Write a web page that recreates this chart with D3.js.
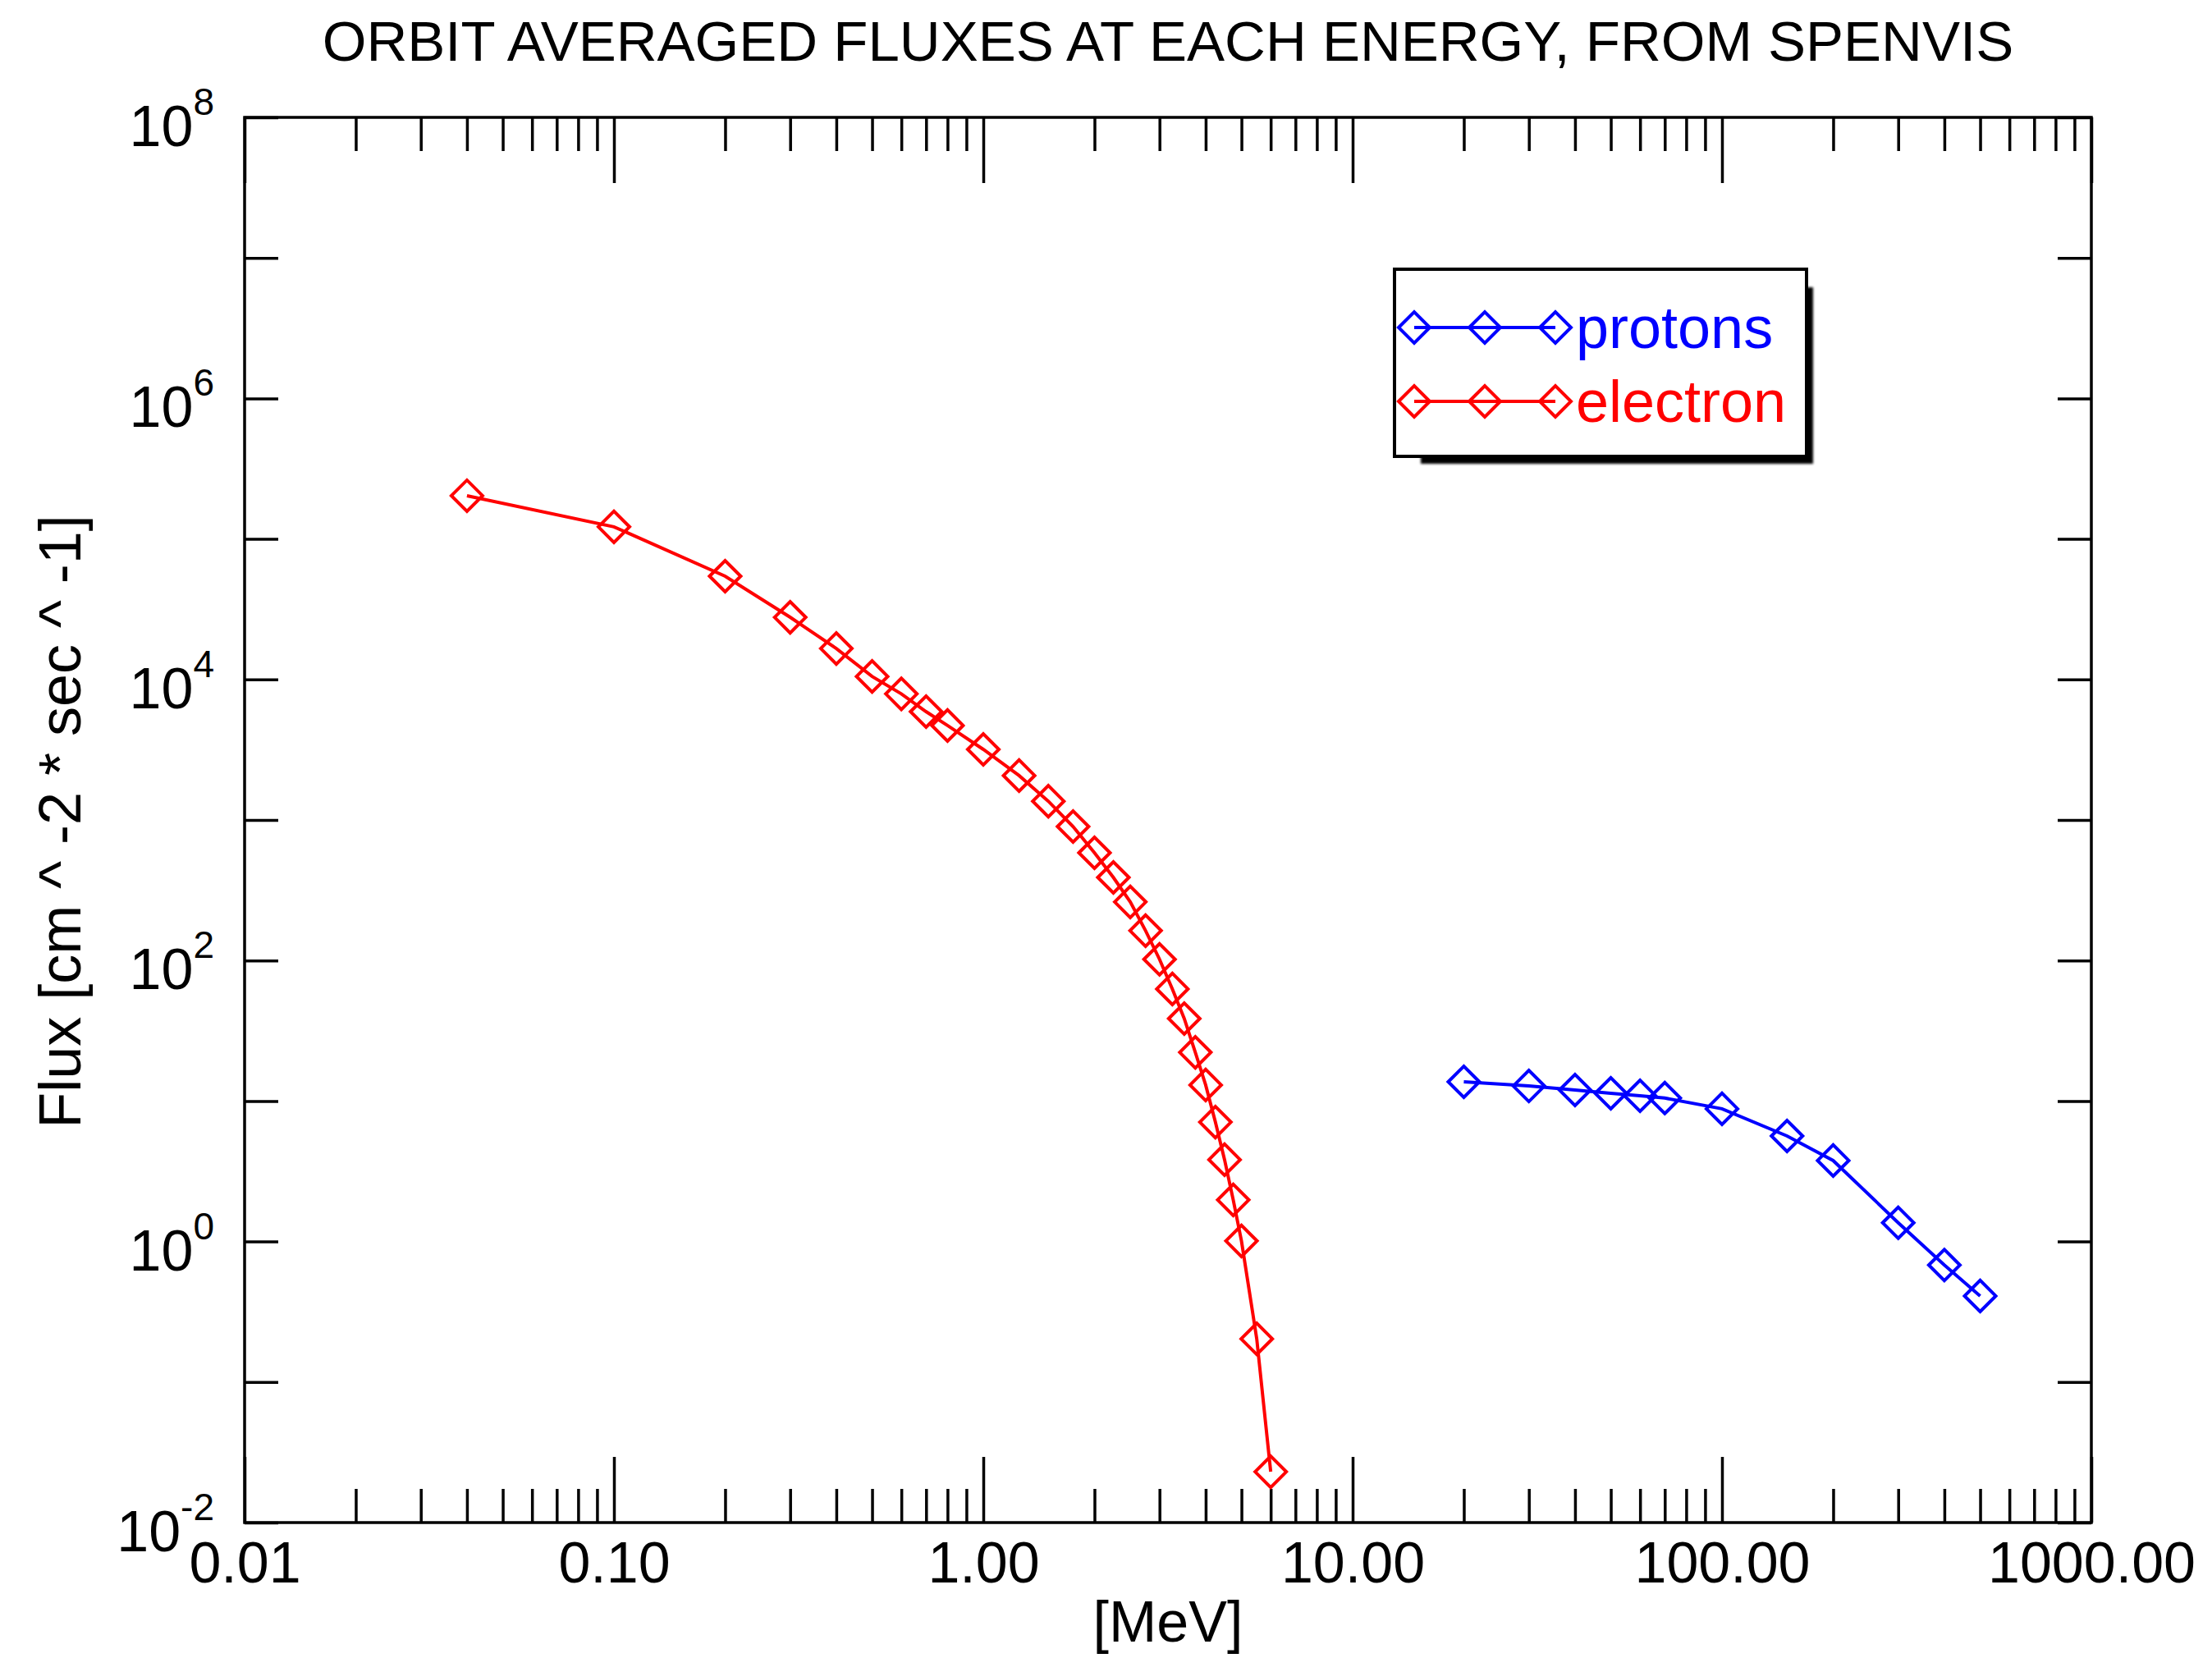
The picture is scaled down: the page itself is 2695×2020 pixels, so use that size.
<!DOCTYPE html>
<html>
<head>
<meta charset="utf-8">
<script src="https://cdnjs.cloudflare.com/ajax/libs/d3/7.8.5/d3.min.js"></script>
<style>
  body { margin: 0; background: #fff; }
  svg { display: block; font-family: "Liberation Sans", Arial, Helvetica, sans-serif; }
</style>
</head>
<body>
<svg width="2695" height="2020"></svg>
<script>
// electron spectrum (MeV, flux)
var electronEnergy = [0.04, 0.1, 0.2, 0.3, 0.4, 0.5, 0.6, 0.7, 0.8, 1.0, 1.25, 1.5, 1.75, 2.0,
    2.25, 2.5, 2.75, 3.0, 3.25, 3.5, 3.75, 4.0, 4.25, 4.5, 4.75, 5.0, 5.5, 6.0];
var electronFlux = [2.03e5, 1.22e5, 5.43e4, 2.77e4, 1.66e4, 1.05e4, 7.9e3, 5.9e3, 4.7e3, 3.18e3,
    2.07e3, 1.36e3, 898, 584, 390, 261, 163, 102, 62.7, 38.6, 22.2, 13.0, 7.08, 3.82, 1.98,
    1.01, 0.203, 0.023];

// proton spectrum
var protonEnergy = [20, 30, 40, 50, 60, 70, 100, 150, 200, 300, 400, 500];
var protonFlux = [13.7, 12.8, 11.97, 11.35, 10.9, 10.5, 8.8, 5.64, 3.77, 1.36, 0.68, 0.41];

var xMajor = [0.01, 0.1, 1, 10, 100, 1000];
var yMajor = [1e-2, 1e-1, 1e0, 1e1, 1e2, 1e3, 1e4, 1e5, 1e6, 1e7, 1e8];
var yLabelExp = [-2, 0, 2, 4, 6, 8];

var margin = {left: 298, top: 143};
var width = 2250, height = 1712;

var svg = d3.select('svg');
var g = svg.append('g').attr('transform', 'translate(' + margin.left + ',' + margin.top + ')');

var x = d3.scaleLog().domain([0.01, 1000]).range([0, width]);
var y = d3.scaleLog().domain([1e-2, 1e8]).range([height, 0]);

var xMinor = [];
for (var d = 0.01; d < 1000; d *= 10)
    for (var m = 2; m <= 9; m++)
        xMinor.push(+(d * m).toPrecision(3));

function styleAxis(sel) {
    sel.select('.domain').remove();
    sel.selectAll('line').attr('stroke', '#000').attr('stroke-width', 3.5);
    sel.selectAll('text').attr('font-family', null).attr('font-size', 70).attr('fill', '#000');
}

// x axes, bottom and top
g.append('g').attr('transform', 'translate(0,' + height + ')')
    .call(d3.axisBottom(x).tickValues(xMajor).tickSize(-80).tickPadding(23)
        .tickFormat(d3.format('.2f')))
    .call(styleAxis);
g.append('g').attr('transform', 'translate(0,' + height + ')')
    .call(d3.axisBottom(x).tickValues(xMinor).tickSize(-41).tickFormat(''))
    .call(styleAxis);
g.append('g')
    .call(d3.axisTop(x).tickValues(xMajor).tickSize(-80).tickFormat(''))
    .call(styleAxis);
g.append('g')
    .call(d3.axisTop(x).tickValues(xMinor).tickSize(-41).tickFormat(''))
    .call(styleAxis);

// y axes, left and right
g.append('g')
    .call(d3.axisLeft(y).tickValues(yMajor).tickSize(-41).tickFormat(''))
    .call(styleAxis);
g.append('g').attr('transform', 'translate(' + width + ',0)')
    .call(d3.axisRight(y).tickValues(yMajor).tickSize(-41).tickFormat(''))
    .call(styleAxis);

// y tick labels as 10^n
var yl = g.selectAll('.ylab').data(yLabelExp).enter().append('text')
    .attr('class', 'ylab')
    .attr('x', -37)
    .attr('y', function (e) { return y(Math.pow(10, e)) + 35; })
    .attr('text-anchor', 'end')
    .attr('font-size', 70);
yl.append('tspan').text('10');
yl.append('tspan').attr('dy', -38).attr('font-size', 46).text(function (e) { return e; });

// frame
g.append('rect').attr('width', width).attr('height', height)
    .attr('fill', 'none').attr('stroke', '#000').attr('stroke-width', 3.5);

var line = d3.line()
    .x(function (d) { return x(d[0]); })
    .y(function (d) { return y(d[1]); });

function diamond(cx, cy, r) {
    return 'M' + (cx - r) + ',' + cy + 'L' + cx + ',' + (cy - r) + 'L' + (cx + r) + ',' + cy +
        'L' + cx + ',' + (cy + r) + 'Z';
}

var series = [
    {name: 'protons', color: '#0000ff', pts: d3.zip(protonEnergy, protonFlux)},
    {name: 'electron', color: '#ff0000', pts: d3.zip(electronEnergy, electronFlux)}
];

series.forEach(function (s) {
    g.append('path').datum(s.pts)
        .attr('d', line)
        .attr('fill', 'none').attr('stroke', s.color).attr('stroke-width', 4);
    g.selectAll(null).data(s.pts).enter().append('path')
        .attr('d', function (d) { return diamond(x(d[0]), y(d[1]), 19); })
        .attr('fill', 'none').attr('stroke', s.color).attr('stroke-width', 4);
});

// title and axis titles
svg.append('text').attr('x', 1423).attr('y', 74).attr('text-anchor', 'middle')
    .attr('font-size', 69).text('ORBIT AVERAGED FLUXES AT EACH ENERGY, FROM SPENVIS');
svg.append('text').attr('x', 1423).attr('y', 2000).attr('text-anchor', 'middle')
    .attr('font-size', 70).text('[MeV]');
svg.append('text').attr('transform', 'translate(98,1001) rotate(-90)').attr('text-anchor', 'middle')
    .attr('font-size', 72).text('Flux [cm ^ -2 * sec ^ -1]');

// legend
var defs = svg.append('defs');
defs.append('filter').attr('id', 'blur').append('feGaussianBlur').attr('stdDeviation', 1.5);
svg.append('rect').attr('x', 1731).attr('y', 350).attr('width', 478).attr('height', 215)
    .attr('fill', '#000').attr('filter', 'url(#blur)');
svg.append('rect').attr('x', 1699).attr('y', 328).attr('width', 502).attr('height', 228)
    .attr('fill', '#fff').attr('stroke', '#000').attr('stroke-width', 4);

var legendY = [399, 489];
series.forEach(function (s, i) {
    var ly = legendY[i];
    svg.append('line').attr('x1', 1723).attr('x2', 1895).attr('y1', ly).attr('y2', ly)
        .attr('stroke', s.color).attr('stroke-width', 4);
    [1723, 1809, 1895].forEach(function (lx) {
        svg.append('path').attr('d', diamond(lx, ly, 19))
            .attr('fill', 'none').attr('stroke', s.color).attr('stroke-width', 4);
    });
    svg.append('text').attr('x', 1920).attr('y', ly + 25).attr('font-size', 72)
        .attr('fill', s.color).text(s.name);
});
</script>
</body>
</html>
